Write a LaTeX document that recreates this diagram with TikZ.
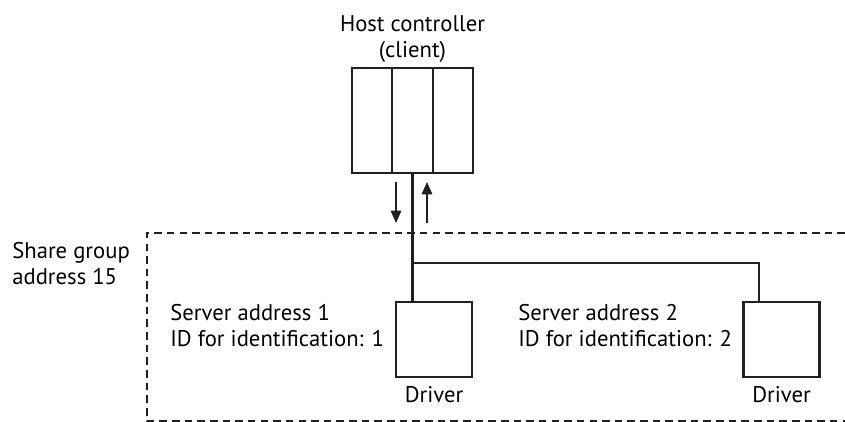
\documentclass[tikz,border=0pt]{standalone}
\usepackage{fontspec}
\setmainfont{PT Sans}
\usepackage{tikz}
\usetikzlibrary{arrows.meta, positioning, calc}
\definecolor{mydark}{RGB}{35,31,32}
\tikzset{
  cell/.style={rectangle, draw=mydark, minimum width=0.81cm,
    minimum height=2.1cm, inner sep=0pt, outer sep=0pt, line width=1.4pt},
  drvbox/.style={rectangle, draw=mydark, minimum width=1.52cm,
    minimum height=1.5cm, inner sep=0pt, line width=1.4pt},
  lbl/.style={align=left, inner sep=0pt, font=\fontsize{12.9}{15}\selectfont},
  flow/.style={-{Triangle[length=7pt, width=6pt]}, line width=0.7pt, color=mydark},
  bus/.style={line width=1.4pt, color=mydark},
  grp/.style={dash pattern=on 4.3pt off 2.9pt, line width=1.4pt, color=mydark}
}
\begin{document}
\begin{tikzpicture}
  \useasboundingbox (0,0) rectangle (16.9,8.44);

  % Host controller made of three cells
  \node[cell] (c2) at (8.25, 6.03) {};
  \node[cell, left=0pt of c2] (c1) {};
  \node[cell, right=0pt of c2] (c3) {};
  \node[lbl, align=center, above=0.1cm of c2] (host) {Host controller\\(client)};

  % Request / response arrows
  \coordinate (dn_a) at (7.92, 4.80);
  \coordinate (dn_b) at (7.92, 3.98);
  \coordinate (up_a) at (8.54, 3.98);
  \coordinate (up_b) at (8.54, 4.80);
  \draw[flow] (dn_a) -- (dn_b);
  \draw[flow] (up_a) -- (up_b);

  % Share group frame (open to the right)
  \coordinate (g_tr) at (16.9, 3.78);
  \coordinate (g_tl) at (2.94, 3.78);
  \coordinate (g_bl) at (2.94, 0.02);
  \coordinate (g_br) at (16.9, 0.02);
  \draw[grp] (g_tr) -- (g_tl) -- (g_bl) -- (g_br);
  \node[lbl, anchor=west] (grpname) at (0.24, 3.17) {Share group\\address 15};

  % Drivers
  \node[drvbox] (drv1) at (8.68, 1.65) {};
  \node[drvbox] (drv2) at (15.63, 1.65) {};
  \node[lbl, below=0.15cm of drv1] (drv1lbl) {Driver};
  \node[lbl, below=0.15cm of drv2] (drv2lbl) {Driver};

  % Bus
  \coordinate (jn) at (8.25, 3.18);
  \coordinate (tap) at (15.18, 3.18);
  \draw[bus] (c2.south) -- (jn) -- (jn |- drv1.north);
  \draw[bus] (jn) -- (tap) -- (tap |- drv2.north);

  % Server addresses
  \node[lbl, anchor=west] (srv1) at (3.40, 1.93) {Server address 1\\ID for identification: 1};
  \node[lbl, anchor=west] (srv2) at (10.36, 1.93) {Server address 2\\ID for identification: 2};
\end{tikzpicture}
\end{document}
